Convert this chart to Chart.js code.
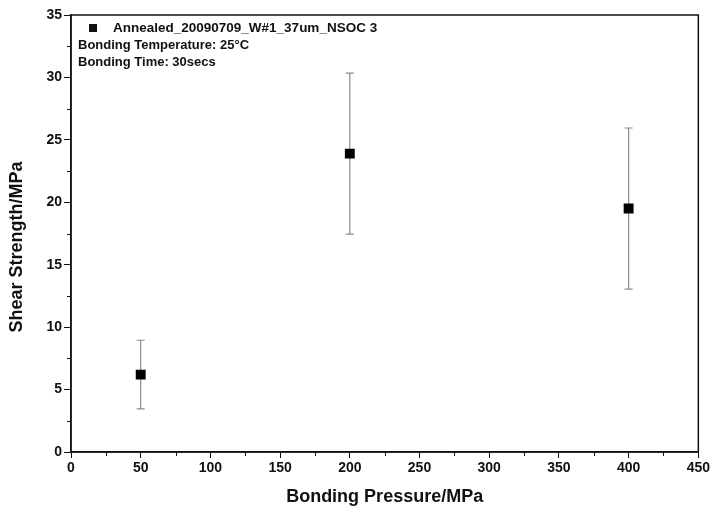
<!DOCTYPE html>
<html>
<head>
<meta charset="utf-8">
<title>Shear Strength vs Bonding Pressure</title>
<script src="https://cdn.jsdelivr.net/npm/chart.js@4.4.1/dist/chart.umd.min.js"></script>
<style>
    html, body { margin: 0; padding: 0; background: #fff; }
    #wrap { position: relative; width: 712px; height: 509px; }
</style>
</head>
<body>
<div id="wrap"><canvas id="shearChart"></canvas></div>
<script>
// ----- data -----
const seriesName = 'Annealed_20090709_W#1_37um_NSOC 3';
const notes = ['Bonding Temperature: 25\u00B0C', 'Bonding Time: 30secs'];
const pressures = [50, 200, 400];          // MPa
const strengths = [6.2, 23.9, 19.5];       // MPa
const errors = [2.75, 6.45, 6.45];         // +/- MPa
const xMinorTicks = [25, 75, 125, 175, 225, 275, 325, 375, 425];
const yMinorTicks = [2.5, 7.5, 12.5, 17.5, 22.5, 27.5, 32.5];

const FONT = '"Liberation Sans", Arial, sans-serif';

// error bars under the markers
const errorBars = {
    id: 'errorBars',
    beforeDatasetsDraw(chart) {
        const { ctx, scales: { x, y } } = chart;
        ctx.save();
        ctx.strokeStyle = '#8c8c8c';
        ctx.lineWidth = 1.2;
        pressures.forEach((p, i) => {
            const px = x.getPixelForValue(p);
            const top = y.getPixelForValue(strengths[i] + errors[i]);
            const bot = y.getPixelForValue(strengths[i] - errors[i]);
            ctx.beginPath();
            ctx.moveTo(px, top); ctx.lineTo(px, bot);
            ctx.moveTo(px - 4, top); ctx.lineTo(px + 4, top);
            ctx.moveTo(px - 4, bot); ctx.lineTo(px + 4, bot);
            ctx.stroke();
        });
        ctx.restore();
    }
};

// box frame, minor ticks, y title and the legend notes
const frameAndNotes = {
    id: 'frameAndNotes',
    afterDraw(chart) {
        const { ctx, chartArea: a, scales: { x, y } } = chart;
        ctx.save();
        ctx.strokeStyle = '#111';
        ctx.lineWidth = 1.5;
        ctx.strokeRect(a.left, a.top, a.right - a.left, a.bottom - a.top);

        ctx.lineWidth = 1;
        ctx.beginPath();
        xMinorTicks.forEach(v => {
            const px = Math.round(x.getPixelForValue(v)) + 0.5;
            ctx.moveTo(px, a.bottom); ctx.lineTo(px, a.bottom + 4);
        });
        yMinorTicks.forEach(v => {
            const py = Math.round(y.getPixelForValue(v)) + 0.5;
            ctx.moveTo(a.left, py); ctx.lineTo(a.left - 4, py);
        });
        ctx.stroke();

        // y axis title
        ctx.fillStyle = '#111';
        ctx.font = 'bold 18px ' + FONT;
        ctx.textAlign = 'center';
        ctx.textBaseline = 'middle';
        ctx.save();
        ctx.translate(17, 247);
        ctx.rotate(-Math.PI / 2);
        ctx.fillText('Shear Strength/MPa', 0, 0);
        ctx.restore();

        // legend entry + notes
        ctx.fillRect(a.left + 18, 24, 8, 8);
        ctx.textAlign = 'left';
        ctx.font = 'bold 13.5px ' + FONT;
        ctx.fillText(seriesName, a.left + 42, 28);
        ctx.font = 'bold 13px ' + FONT;
        notes.forEach((t, i) => ctx.fillText(t, a.left + 7, 45 + i * 17));
        ctx.restore();
    }
};

new Chart(document.getElementById('shearChart'), {
    type: 'scatter',
    data: {
        datasets: [{
            label: seriesName,
            data: pressures.map((p, i) => ({ x: p, y: strengths[i] })),
            pointStyle: 'rect',
            pointRadius: 7,
            pointHoverRadius: 7,
            backgroundColor: '#000',
            borderColor: '#000',
            borderWidth: 0
        }]
    },
    options: {
        responsive: true,
        maintainAspectRatio: false,
        animation: false,
        layout: { padding: { top: 15, right: 11, left: 0, bottom: 0 } },
        plugins: {
            legend: { display: false },
            tooltip: { enabled: false }
        },
        scales: {
            x: {
                type: 'linear',
                min: 0,
                max: 450,
                ticks: {
                    stepSize: 50,
                    color: '#111',
                    padding: 2,
                    font: { family: FONT, size: 14, weight: 'bold' }
                },
                grid: { drawOnChartArea: false, tickLength: 6, color: '#111', tickWidth: 1 },
                border: { color: '#111', width: 1.5 },
                title: {
                    display: true,
                    text: 'Bonding Pressure/MPa',
                    color: '#111',
                    padding: { top: 0, bottom: 1 },
                    font: { family: FONT, size: 18, weight: 'bold' }
                },
                afterFit: s => { s.height = 57; }
            },
            y: {
                type: 'linear',
                min: 0,
                max: 35,
                ticks: {
                    stepSize: 5,
                    color: '#111',
                    padding: 2,
                    font: { family: FONT, size: 14, weight: 'bold' }
                },
                grid: { drawOnChartArea: false, tickLength: 7, color: '#111', tickWidth: 1 },
                border: { color: '#111', width: 1.5 },
                afterFit: s => { s.width = 71; }
            }
        }
    },
    plugins: [errorBars, frameAndNotes]
});
</script>
</body>
</html>
